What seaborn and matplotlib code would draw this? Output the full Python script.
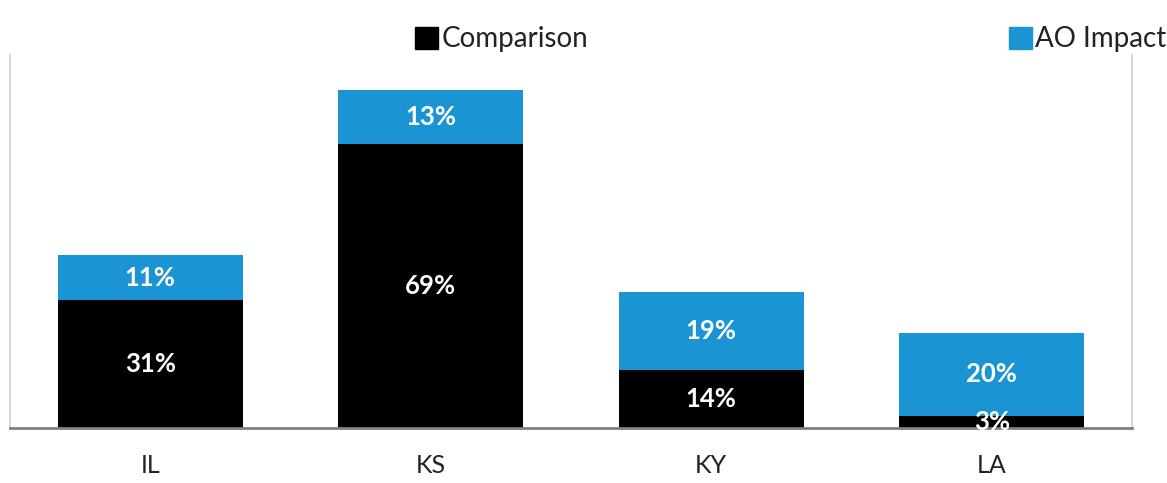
import pandas as pd
import matplotlib.pyplot as plt
import seaborn as sns
from matplotlib.patches import Patch

# values
states = ["IL", "KS", "KY", "LA"]
comparison = [31, 69, 14, 3]
ao_impact = [11, 13, 19, 20]

blue = "#1a94d2"

df = pd.DataFrame({"State": states, "Comparison": comparison, "AO Impact": ao_impact})
df["Total"] = df["Comparison"] + df["AO Impact"]

sns.set_style("white")
plt.rcParams["font.family"] = ["Lato", "DejaVu Sans"]

fig = plt.figure(figsize=(11.67, 4.83), dpi=100)
ax = fig.add_axes([0.0086, 0.114, 0.9614, 0.772])

# stacked bars: total in blue, comparison drawn over it in black
sns.barplot(data=df, x="State", y="Total", color=blue, width=0.66,
            saturation=1, linewidth=0, ax=ax)
sns.barplot(data=df, x="State", y="Comparison", color="black", width=0.66,
            saturation=1, linewidth=0, ax=ax)

# labels inside segments
for i, row in df.iterrows():
    ax.text(i, row["Comparison"] / 2, f"{row['Comparison']}%", ha="center",
            va="center", color="white", fontsize=18.5, fontweight="bold")
    ax.text(i, row["Comparison"] + row["AO Impact"] / 2, f"{row['AO Impact']}%",
            ha="center", va="center", color="white", fontsize=18.5,
            fontweight="bold")

ax.set_xlim(-0.5, 3.5)
ax.set_ylim(0, 90.5)
ax.set_xlabel("")
ax.set_ylabel("")
ax.set_yticks([])
ax.tick_params(axis="x", length=0, pad=19, labelsize=18, labelcolor="#222222")

for side in ["left", "right"]:
    ax.spines[side].set_color("#d0d0d0")
    ax.spines[side].set_linewidth(1.2)
ax.spines["top"].set_visible(False)
ax.spines["bottom"].set_color("#808080")
ax.spines["bottom"].set_linewidth(2)

# two separate legend entries along the top
leg_kw = dict(loc="upper left", frameon=False, fontsize=20, handlelength=0.85,
              handleheight=0.85, handletextpad=0.1, labelcolor="#222222")
fig.legend(handles=[Patch(color="black", label="Comparison")],
           bbox_to_anchor=(0.334, 0.997), **leg_kw)
fig.legend(handles=[Patch(color=blue, label="AO Impact")],
           bbox_to_anchor=(0.843, 0.997), **leg_kw)

plt.savefig("out.png", dpi=100)
